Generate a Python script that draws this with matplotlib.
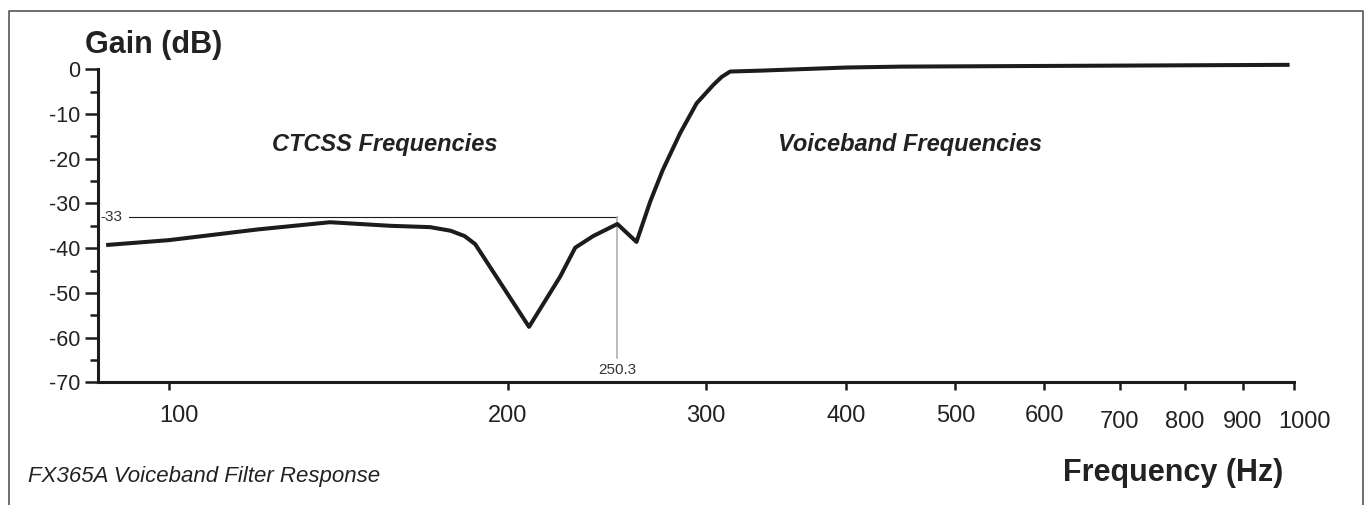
#!/usr/bin/env python
"""
FX365A voiceband filter response, redrawn with matplotlib.
"""
import matplotlib
matplotlib.use('Agg')
import matplotlib.pyplot as plt
import matplotlib.transforms as mtransforms
from matplotlib.lines import Line2D
from matplotlib.ticker import FixedLocator, NullLocator

# response curve
freq_hz = [87.9, 100, 120, 139.0, 157.2, 170.6, 177.9, 183.1, 187.1, 208.9,
           222.6, 229.6, 238.2, 250.3, 260.3, 267.7, 274.7, 284.6, 294.4,
           304.6, 309.9, 315.3, 335.5, 400, 446.7, 600, 991]
gain_db = [-39.3, -38.2, -35.8, -34.2, -35.0, -35.3, -36.1, -37.3, -39.1, -57.6,
           -46.4, -39.9, -37.3, -34.6, -38.6, -29.6, -22.5, -14.3, -7.6,
           -3.5, -1.7, -0.5, -0.3, 0.4, 0.6, 0.75, 1.0]

x_ticks = [100, 200, 300, 400, 500, 600, 700, 800, 900, 1000]
y_major = [0, -10, -20, -30, -40, -50, -60, -70]
y_minor = [-5, -15, -25, -35, -45, -55, -65]

marker_db = -33
marker_hz = 250.3

W, H = 1372, 505
plt.rcParams['font.family'] = ['Liberation Sans', 'DejaVu Sans']
ink = '#1c1c1c'

fig = plt.figure(figsize=(W / 100, H / 100), dpi=100)
fig.patch.set_facecolor('white')


def fx(x):
    return x / W


def fy(y):
    return 1 - y / H


ax = fig.add_axes([fx(98.3), fy(382.3), fx(1294) - fx(98.3), fy(69.3) - fy(382.3)])
ax.set_xscale('log')
ax.set_xlim(86.5, 1000)
ax.set_ylim(-70, 0)

for side in ['top', 'right']:
    ax.spines[side].set_visible(False)
for side in ['left', 'bottom']:
    ax.spines[side].set_linewidth(2.2)
    ax.spines[side].set_color(ink)

# curve
ax.plot(freq_hz, gain_db, color=ink, lw=2.9, solid_joinstyle='round',
        solid_capstyle='butt', clip_on=False, zorder=3)

# -33 dB / 250.3 Hz marker lines
ax.plot([92.1, marker_hz], [marker_db, marker_db], color=ink, lw=0.8, zorder=2)
ax.plot([marker_hz, marker_hz], [marker_db, -64.6], color='#b0b0b0', lw=1.2, zorder=2)
ax.text(88.9, marker_db, '-33', fontsize=11, color='#333333', ha='center', va='center')
ax.text(marker_hz, -67.3, '250.3', fontsize=11, color='#333333', ha='center', va='center')

# ticks
ax.xaxis.set_major_locator(FixedLocator(x_ticks))
ax.xaxis.set_minor_locator(NullLocator())
ax.set_xticklabels([str(t) for t in x_ticks])
ax.yaxis.set_major_locator(FixedLocator(y_major))
ax.yaxis.set_minor_locator(FixedLocator(y_minor))
ax.set_yticklabels([str(t) for t in y_major])

ax.tick_params(axis='x', which='major', direction='out', length=6, width=1.8,
               color=ink, labelsize=17, labelcolor='#222222', pad=10.5)
ax.tick_params(axis='y', which='major', direction='out', length=9.4, width=1.8,
               color=ink, labelsize=15.5, labelcolor='#222222', pad=3.5)
ax.tick_params(axis='y', which='minor', direction='out', length=5.8, width=1.8,
               color=ink)

# small nudges of some x labels, as in the original
nudges = {100: (0.10, 0), 700: (0, -0.06), 800: (0, -0.06),
          900: (0, -0.06), 1000: (0.10, -0.06)}
for tick, lab in zip(x_ticks, ax.get_xticklabels()):
    if tick in nudges:
        dx, dy = nudges[tick]
        lab.set_transform(lab.get_transform() +
                          mtransforms.ScaledTranslation(dx, dy, fig.dpi_scale_trans))

# texts
fig.text(fx(85), fy(53.3), 'Gain (dB)', fontsize=22, fontweight='bold',
         color='#222222', ha='left', va='baseline')
fig.text(fx(384.5), fy(151), 'CTCSS Frequencies', fontsize=17, fontweight='bold',
         fontstyle='italic', color='#222222', ha='center', va='baseline')
fig.text(fx(910), fy(151), 'Voiceband Frequencies', fontsize=17, fontweight='bold',
         fontstyle='italic', color='#222222', ha='center', va='baseline')
fig.text(fx(28), fy(481.7), 'FX365A Voiceband Filter Response', fontsize=16,
         fontstyle='italic', color='#222222', ha='left', va='baseline')
fig.text(fx(1283), fy(481), 'Frequency (Hz)', fontsize=22, fontweight='bold',
         color='#222222', ha='right', va='baseline')

# outer frame, open at the bottom
fig.add_artist(Line2D([fx(9), fx(9), fx(1363), fx(1363)],
                      [0, fy(10.7), fy(10.7), 0],
                      transform=fig.transFigure, color='#555555', lw=1.2))

fig.savefig('out.png', dpi=100, facecolor='white')
